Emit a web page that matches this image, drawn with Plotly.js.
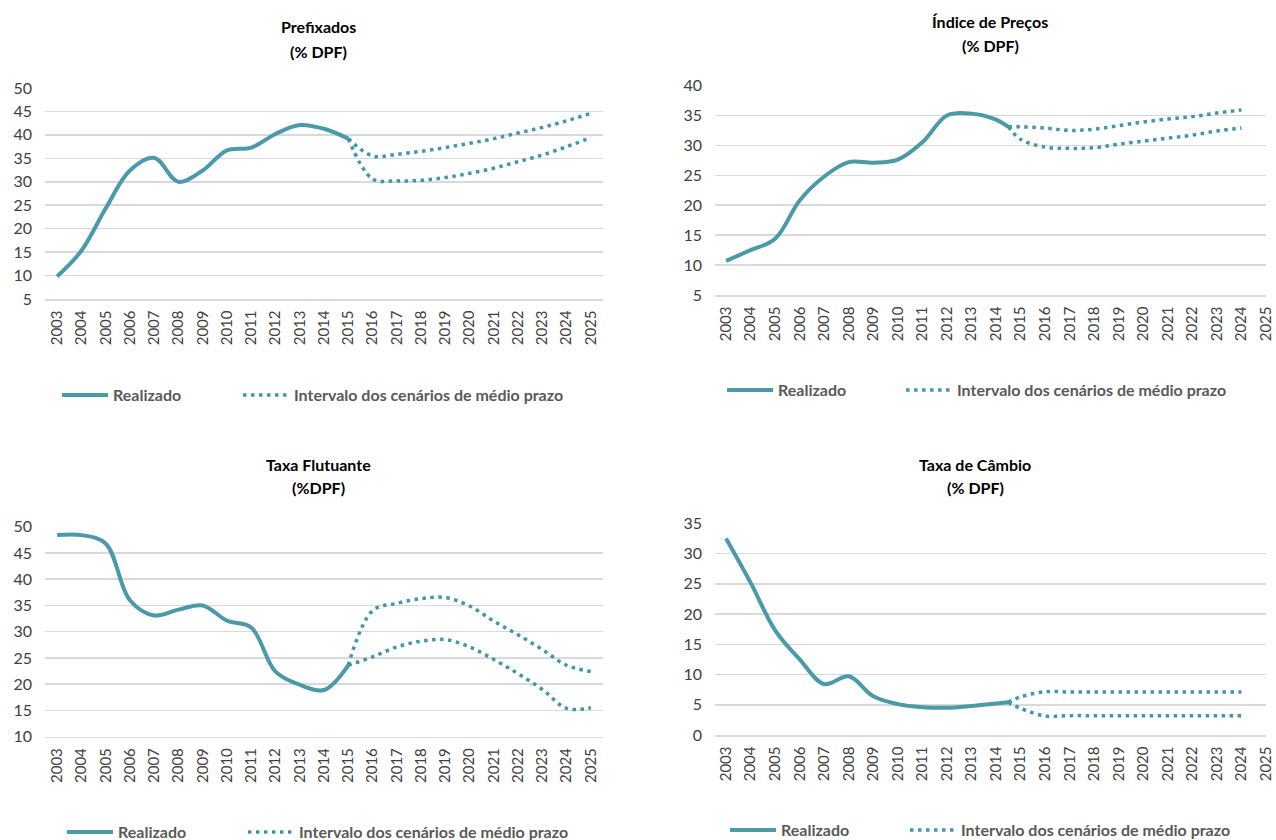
<!DOCTYPE html>
<html>
<head>
<meta charset="utf-8">
<script src="https://cdn.plot.ly/plotly-3.0.1.min.js"></script>
<style>
  html, body { margin: 0; padding: 0; background: #ffffff; }
  #chart { width: 1276px; height: 840px; }
</style>
</head>
<body>
<div id="chart"></div>
<script>
// ---------- Data ----------
const tickYears = [2003, 2004, 2005, 2006, 2007, 2008, 2009, 2010, 2011, 2012, 2013, 2014, 2015, 2016, 2017, 2018, 2019, 2020, 2021, 2022, 2023, 2024, 2025];
const tickLabels = ['2003', '2004', '2005', '2006', '2007', '2008', '2009', '2010', '2011', '2012', '2013', '2014', '2015', '2016', '2017', '2018', '2019', '2020', '2021', '2022', '2023', '2024', '2025'];

const seriesNames = ['Realizado', 'Intervalo dos cenários de médio prazo'];
const panelTitles = ['Prefixados', 'Índice de Preços', 'Taxa Flutuante', 'Taxa de Câmbio'];
const panelSubtitles = ['(% DPF)', '(% DPF)', '(%DPF)', '(% DPF)'];

// Prefixados
const preRealYears = [2003, 2004, 2005, 2006, 2007, 2008, 2009, 2010, 2011, 2012, 2013, 2014, 2015];
const preReal = [9.8, 15.3, 24.3, 32.4, 35.1, 30.0, 32.4, 36.7, 37.3, 40.2, 42.1, 41.3, 39.2];
const preProjYears = [2015, 2016, 2017, 2018, 2019, 2020, 2021, 2022, 2023, 2024, 2025];
const preUpper = [39.2, 35.5, 35.85, 36.5, 37.3, 38.2, 39.2, 40.4, 41.6, 43.0, 44.6];
const preLower = [39.2, 30.6, 30.2, 30.3, 30.9, 31.8, 32.9, 34.3, 35.7, 37.5, 39.4];

// Índice de Preços
const ipRealYears = [2003, 2004, 2005, 2006, 2007, 2008, 2009, 2010, 2011, 2012, 2013, 2014, 2014.5];
const ipReal = [10.7, 12.5, 14.4, 20.8, 24.8, 27.2, 27.1, 27.6, 30.5, 35.0, 35.3, 34.3, 33.1];
const ipProjYears = [2014.5, 2015, 2016, 2017, 2018, 2019, 2020, 2021, 2022, 2023, 2024];
const ipUpper = [33.1, 33.1, 32.9, 32.5, 32.7, 33.3, 33.9, 34.4, 34.8, 35.4, 35.9];
const ipLower = [33.1, 31.0, 29.7, 29.5, 29.6, 30.2, 30.7, 31.2, 31.7, 32.4, 32.9];

// Taxa Flutuante
const tfRealYears = [2003, 2004, 2005, 2006, 2007, 2008, 2009, 2010, 2011, 2012, 2013, 2014, 2015];
const tfReal = [48.4, 48.4, 46.8, 36.0, 33.1, 34.2, 35.0, 32.1, 30.8, 22.4, 19.9, 18.9, 23.6];
const tfProjYears = [2015, 2016, 2017, 2018, 2019, 2020, 2021, 2022, 2023, 2024, 2025];
const tfUpper = [23.6, 34.0, 35.4, 36.3, 36.5, 34.9, 32.0, 29.4, 26.6, 23.6, 22.4];
const tfLower = [23.6, 25.2, 27.1, 28.2, 28.5, 27.1, 24.7, 22.0, 19.0, 15.4, 15.5];

// Taxa de Câmbio
const cbRealYears = [2003, 2004, 2005, 2006, 2007, 2008, 2009, 2010, 2011, 2012, 2013, 2014, 2014.5];
const cbReal = [32.5, 25.2, 17.3, 12.5, 8.4, 9.7, 6.4, 5.1, 4.6, 4.5, 4.8, 5.2, 5.4];
const cbProjYears = [2014.5, 2015, 2016, 2017, 2018, 2019, 2020, 2021, 2022, 2023, 2024];
const cbUpper = [5.4, 6.3, 7.15, 7.1, 7.1, 7.1, 7.1, 7.1, 7.1, 7.1, 7.1];
const cbLower = [5.4, 4.4, 3.15, 3.2, 3.2, 3.2, 3.2, 3.2, 3.2, 3.2, 3.2];

// ---------- Styling ----------
const W = 1276, H = 840;
const FONT = 'Lato, "Open Sans", sans-serif';
const lineColor = '#4a9aaa';
const dotColor = '#3f97a8';
const gridColor = '#d9d9d9';
const tickColor = '#404040';
const legendColor = '#595959';

const px = v => v / W;
const py = v => (H - v) / H;

const panels = [
  { real: [preRealYears, preReal], up: [preProjYears, preUpper], lo: [preProjYears, preLower],
    xdom: [45, 603], ydom: [299, 88], yrange: [5, 50], xrange: [2002.5, 2025.5],
    titleX: 318, titleY: [27, 51], legX: [57, 238], legY: 395 },
  { real: [ipRealYears, ipReal], up: [ipProjYears, ipUpper], lo: [ipProjYears, ipLower],
    xdom: [715, 1266], ydom: [295, 85.5], yrange: [5, 40], xrange: [2002.55, 2025.0],
    titleX: 990, titleY: [21, 45], legX: [722, 901], legY: 390 },
  { real: [tfRealYears, tfReal], up: [tfProjYears, tfUpper], lo: [tfProjYears, tfLower],
    xdom: [45, 603], ydom: [736.7, 526.7], yrange: [10, 50], xrange: [2002.5, 2025.5],
    titleX: 318, titleY: [464, 488], legX: [62, 243], legY: 832 },
  { real: [cbRealYears, cbReal], up: [cbProjYears, cbUpper], lo: [cbProjYears, cbLower],
    xdom: [715, 1266], ydom: [735, 523.3], yrange: [0, 35], xrange: [2002.55, 2025.0],
    titleX: 975, titleY: [464, 488], legX: [725, 905], legY: 830 }
];

const traces = [];
const layout = {
  width: W, height: H,
  margin: { l: 0, r: 0, t: 0, b: 0, autoexpand: false },
  paper_bgcolor: '#ffffff', plot_bgcolor: '#ffffff',
  font: { family: FONT, color: tickColor },
  annotations: [],
  showlegend: true
};

function legendBox(x, y) {
  return {
    x: px(x), y: py(y), xanchor: 'left', yanchor: 'middle',
    orientation: 'h', bgcolor: 'rgba(0,0,0,0)', borderwidth: 0,
    itemwidth: 46,
    font: { family: FONT, size: 16, color: legendColor, weight: 'bold' }
  };
}

panels.forEach((p, i) => {
  const n = i + 1;
  const xa = n === 1 ? 'x' : 'x' + n;
  const ya = n === 1 ? 'y' : 'y' + n;
  const legA = 'legend' + (n === 1 ? '' : n);
  const legB = 'legend' + (n + 4);

  traces.push({
    type: 'scatter', mode: 'lines', x: p.real[0], y: p.real[1],
    name: seriesNames[0], xaxis: xa, yaxis: ya, legend: legA,
    line: { color: lineColor, width: 4, shape: 'spline', smoothing: 1 },
    hoverinfo: 'x+y'
  });
  traces.push({
    type: 'scatter', mode: 'lines', x: p.up[0], y: p.up[1],
    name: seriesNames[1], xaxis: xa, yaxis: ya, legend: legB,
    line: { color: dotColor, width: 3.5, dash: '3.5px,4.5px', shape: 'spline', smoothing: 1 },
    hoverinfo: 'x+y'
  });
  traces.push({
    type: 'scatter', mode: 'lines', x: p.lo[0], y: p.lo[1],
    name: seriesNames[1], xaxis: xa, yaxis: ya, legend: legB, showlegend: false,
    line: { color: dotColor, width: 3.5, dash: '3.5px,4.5px', shape: 'spline', smoothing: 1 },
    hoverinfo: 'x+y'
  });

  const xKey = n === 1 ? 'xaxis' : 'xaxis' + n;
  const yKey = n === 1 ? 'yaxis' : 'yaxis' + n;
  layout[xKey] = {
    domain: [px(p.xdom[0]), px(p.xdom[1])],
    anchor: ya, range: p.xrange, type: 'linear',
    tickmode: 'array', tickvals: tickYears, ticktext: tickLabels,
    tickangle: -90, showgrid: false, zeroline: false,
    showline: true, linecolor: gridColor, linewidth: 1.5,
    ticks: '', ticklabelstandoff: 4,
    tickfont: { family: FONT, size: 15, color: tickColor },
    fixedrange: true
  };
  layout[yKey] = {
    domain: [py(p.ydom[0]), py(p.ydom[1])],
    anchor: xa, range: p.yrange, dtick: 5, tick0: 0,
    showgrid: true, gridcolor: gridColor, gridwidth: 1.5,
    zeroline: false, showline: false, ticks: '', ticklabelstandoff: 12,
    tickfont: { family: FONT, size: 16, color: tickColor },
    fixedrange: true
  };

  layout[legA] = legendBox(p.legX[0], p.legY);
  layout[legB] = legendBox(p.legX[1], p.legY);

  layout.annotations.push({
    xref: 'paper', yref: 'paper', x: px(p.titleX), y: py(p.titleY[0]),
    xanchor: 'center', yanchor: 'middle', showarrow: false,
    text: panelTitles[i], font: { family: FONT, size: 16, color: '#000000', weight: 'bold' }
  });
  layout.annotations.push({
    xref: 'paper', yref: 'paper', x: px(p.titleX), y: py(p.titleY[1]),
    xanchor: 'center', yanchor: 'middle', showarrow: false,
    text: panelSubtitles[i], font: { family: FONT, size: 16, color: '#000000', weight: 'bold' }
  });
});

Plotly.newPlot('chart', traces, layout, { displayModeBar: false, staticPlot: true });
</script>
</body>
</html>
